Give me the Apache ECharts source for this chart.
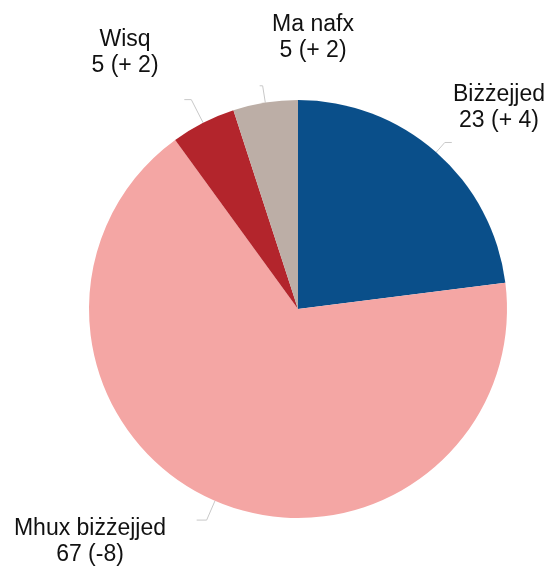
<!DOCTYPE html>
<html>
<head>
<meta charset="utf-8">
<script src="https://cdn.jsdelivr.net/npm/echarts@6/dist/echarts.min.js"></script>
<style>html,body{margin:0;padding:0;background:#fff;}#c{width:548px;height:569px;}</style>
</head>
<body>
<div id="c"></div>
<script>
const categories = ['Biżżejjed', 'Mhux biżżejjed', 'Wisq', 'Ma nafx'];
const values = [23, 67, 5, 5];
const changes = ['+ 4', '-8', '+ 2', '+ 2'];
const colors = ['#0a4f8a', '#f4a6a4', '#b3252c', '#bcaea6'];
const labelCenters = [[499, 108], [90, 542], [125, 53], [313, 38]];
const lineLen = [[13, 7], [21, 10], [26, 7], [17, 3]];

const chart = echarts.init(document.getElementById('c'), null, {renderer: 'canvas'});
chart.setOption({
  animation: false,
  series: [{
    type: 'pie',
    center: [298, 309],
    radius: 209,
    startAngle: 90,
    clockwise: true,
    avoidLabelOverlap: false,
    silent: true,
    itemStyle: {borderWidth: 0},
    label: {
      show: true,
      position: 'outside',
      fontFamily: 'Liberation Sans, Arial, sans-serif',
      fontSize: 23,
      lineHeight: 26,
      color: '#111',
      align: 'center',
      formatter: p => p.name + '\n' + p.value + ' (' + changes[p.dataIndex] + ')'
    },
    labelLine: {show: true, lineStyle: {color: '#c8c8c8', width: 1}},
    labelLayout: function (params) {
      const c = labelCenters[params.dataIndex];
      return {
        x: c[0], y: c[1], align: 'center', verticalAlign: 'middle',
        labelLinePoints: params.labelLinePoints
      };
    },
    data: categories.map((n, i) => ({
      name: n, value: values[i],
      itemStyle: {color: colors[i]},
      labelLine: {length: lineLen[i][0], length2: lineLen[i][1]}
    }))
  }]
});
</script>
</body>
</html>
